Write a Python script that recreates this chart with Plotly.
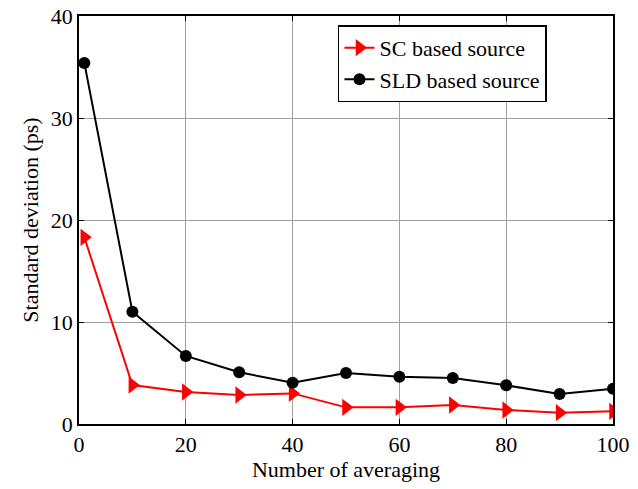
import plotly.graph_objects as go

# Number of averaged acquisitions
averaging = [1, 10, 20, 30, 40, 50, 60, 70, 80, 90, 100]

# Standard deviation (ps) for each source type
sc_std = [18.3, 3.82, 3.14, 2.84, 3.0, 1.63, 1.63, 1.86, 1.37, 1.11, 1.24]
sld_std = [35.4, 11.0, 6.67, 5.07, 4.05, 5.0, 4.64, 4.5, 3.79, 2.94, 3.46]

series_names = ["SC based source", "SLD based source"]

x_ticks = [0, 20, 40, 60, 80, 100]
y_ticks = [0, 10, 20, 30, 40]

label_font = dict(family="Liberation Serif", size=22, color="black")

fig = go.Figure()
fig.add_trace(go.Scatter(
    x=averaging, y=sc_std, name=series_names[0], mode="lines+markers",
    line=dict(color="#ff0000", width=2),
    marker=dict(symbol="triangle-right", size=15, color="#ff0000"),
))
fig.add_trace(go.Scatter(
    x=averaging, y=sld_std, name=series_names[1], mode="lines+markers",
    line=dict(color="#000000", width=2),
    marker=dict(symbol="circle", size=12, color="#000000"),
))

fig.update_layout(
    template="none",
    width=638, height=489,
    margin=dict(l=79, r=25, t=16, b=65),
    font=label_font,
    showlegend=True,
    legend=dict(
        x=0.485, y=0.977, xanchor="left", yanchor="top",
        bgcolor="white", bordercolor="black", borderwidth=1.5,
        font=label_font, tracegroupgap=0,
    ),
)

fig.update_xaxes(
    range=[0, 100], tickvals=x_ticks, tickfont=label_font,
    title=dict(text="Number of averaging", font=label_font, standoff=4),
    showline=True, linecolor="black", linewidth=1.5, mirror="ticks",
    ticks="inside", ticklen=5, tickcolor="black",
    showgrid=True, gridcolor="#a0a0a0", gridwidth=1,
    zeroline=False,
)
fig.update_yaxes(
    range=[0, 40], tickvals=y_ticks, tickfont=label_font,
    title=dict(text="Standard deviation (ps)", font=label_font, standoff=6),
    showline=True, linecolor="black", linewidth=1.5, mirror="ticks",
    ticks="inside", ticklen=5, tickcolor="black",
    showgrid=True, gridcolor="#a0a0a0", gridwidth=1,
    zeroline=False,
)

fig.write_html("out.html")
